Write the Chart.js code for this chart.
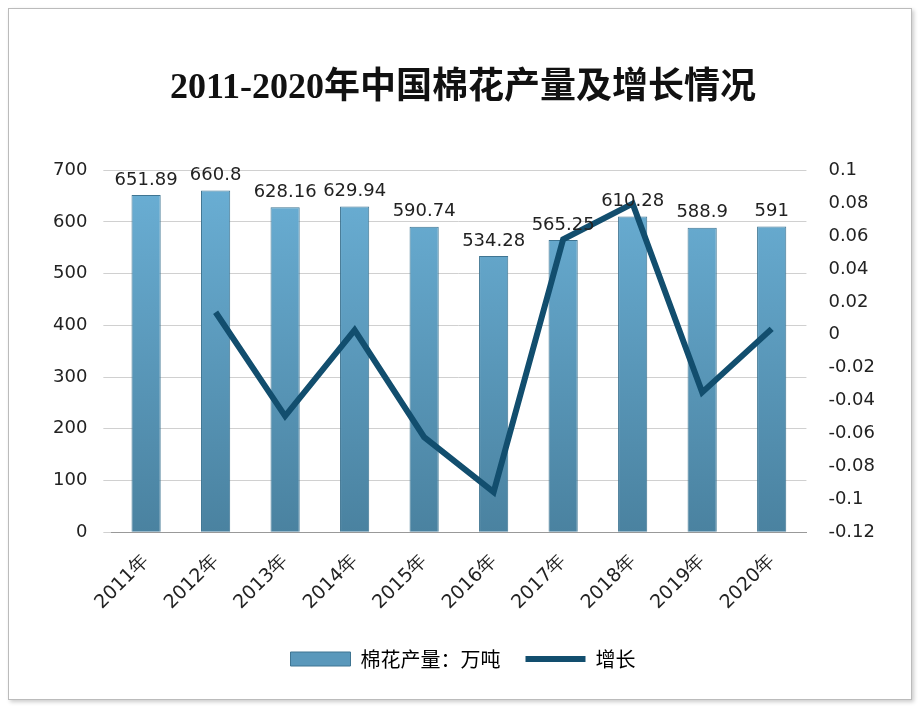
<!DOCTYPE html>
<html><head><meta charset="utf-8">
<script src="https://cdn.jsdelivr.net/npm/chart.js@4"></script>
<style>body{margin:0;background:#fff}#w{position:absolute;left:8px;top:8px;width:902px;height:690px;border:1px solid #bbb;box-shadow:2px 2px 4px #ccc}</style>
</head><body><div id="w"><canvas id="c" width="902" height="690"></canvas></div>
<script>
const categories=['2011年','2012年','2013年','2014年','2015年','2016年','2017年','2018年','2019年','2020年'];
const output=[651.89,660.8,628.16,629.94,590.74,534.28,565.25,610.28,588.9,591];
const growth=[null,0.0137,-0.0494,0.0028,-0.0622,-0.0956,0.058,0.0797,-0.035,0.0036];
const leftTicks=[0,100,200,300,400,500,600,700];
const ctx=document.getElementById('c').getContext('2d');
const labelPlugin={id:'lbl',afterDatasetsDraw(ch){const m=ch.getDatasetMeta(0);const c=ch.ctx;c.save();c.font='18px "DejaVu Sans"';c.fillStyle='#222';c.textAlign='center';c.textBaseline='bottom';m.data.forEach((b,i)=>c.fillText(String(output[i]),b.x,b.y-6));c.restore();}};
new Chart(ctx,{data:{labels:categories,datasets:[
{type:'bar',label:'棉花产量：万吨',data:output,yAxisID:'y',order:2,barPercentage:0.42,categoryPercentage:1,
 backgroundColor:(c)=>{const a=c.chart.chartArea;if(!a)return '#5fa3c8';const g=c.chart.ctx.createLinearGradient(0,a.top,0,a.bottom);g.addColorStop(0,'#6bb0d6');g.addColorStop(1,'#4a82a0');return g;},borderColor:'#3f7592',borderWidth:1,pointStyle:'rect'},
{type:'line',label:'增长',data:growth,yAxisID:'y1',order:1,borderColor:'#124e6e',backgroundColor:'#124e6e',borderWidth:6,pointRadius:0,tension:0,spanGaps:false,pointStyle:'line'}
]},
options:{responsive:false,animation:false,layout:{padding:{left:28,right:22,top:10,bottom:20}},
plugins:{title:{display:true,text:'2011-2020年中国棉花产量及增长情况',font:{size:36,weight:'bold',family:'"Liberation Serif","Noto Sans CJK SC", serif'},color:'#111',padding:{top:48,bottom:60}},
legend:{position:'bottom',sort:(a,b)=>a.datasetIndex-b.datasetIndex,labels:{usePointStyle:true,pointStyleWidth:60,font:{size:20,family:'"Noto Sans CJK SC"'},color:'#111',boxWidth:60,boxHeight:14,padding:25,
 generateLabels:(ch)=>[{text:'棉花产量：万吨',fillStyle:'#5a98bb',strokeStyle:'#3f7592',lineWidth:1,pointStyle:'rect',datasetIndex:0},{text:'增长',fillStyle:'#124e6e',strokeStyle:'#124e6e',lineWidth:6,pointStyle:'line',datasetIndex:1}]},
 onClick:null},tooltip:{enabled:false}},
scales:{x:{grid:{display:false},border:{color:'#999'},ticks:{font:{size:19,family:'"DejaVu Sans"'},color:'#222',maxRotation:45,minRotation:45,padding:10}},
y:{position:'left',min:0,max:700,afterBuildTicks:(s)=>{s.ticks=leftTicks.map(v=>({value:v}));},grid:{color:'#d0d0d0'},border:{display:false},ticks:{font:{size:18,family:'"DejaVu Sans"'},color:'#222',padding:16}},
y1:{position:'right',min:-0.12,max:0.1,grid:{display:false},border:{display:false},ticks:{stepSize:0.02,font:{size:18,family:'"DejaVu Sans"'},color:'#222',padding:14,callback:v=>String(Math.round(v*100)/100)}}}},
plugins:[labelPlugin]});
</script></body></html>
